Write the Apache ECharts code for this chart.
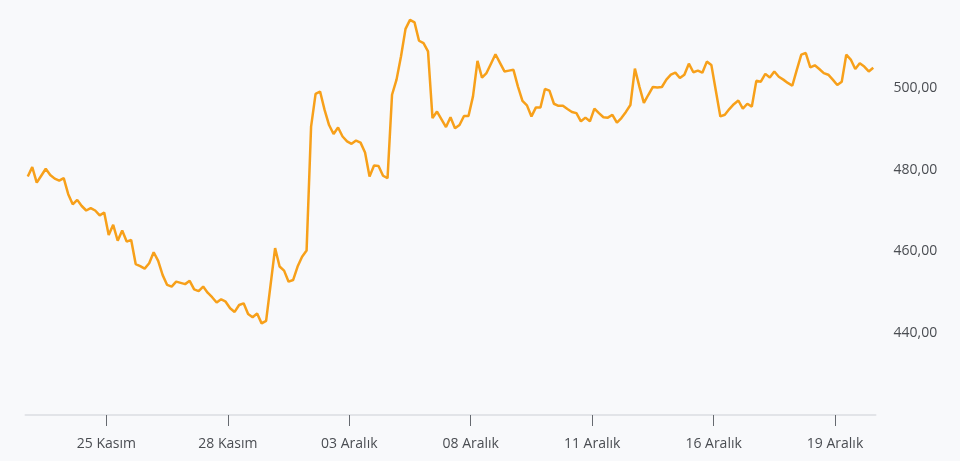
<!DOCTYPE html>
<html>
<head>
<meta charset="utf-8">
<script src="https://cdn.jsdelivr.net/npm/echarts@6/dist/echarts.min.js"></script>
<style>
html,body{margin:0;padding:0;background:#f8f9fb;}
#chart{width:960px;height:461px;}
</style>
</head>
<body>
<div id="chart"></div>
<script>
// Price series (one point per trading hour, 9 points per day)
const values = [
478.3,480.6,476.8,478.5,480.2,478.7,477.8,477.3,477.9,
474.0,471.5,472.6,471.1,470.0,470.6,470.0,468.8,469.5,
464.0,466.5,462.6,465.1,462.4,462.8,456.9,456.4,455.8,
457.1,459.8,457.7,454.2,451.8,451.4,452.6,452.3,452.0,
452.8,450.7,450.3,451.4,449.9,448.8,447.5,448.3,447.7,
446.1,445.2,446.9,447.3,444.7,443.9,444.8,442.4,443.0,
451.9,460.8,456.3,455.3,452.6,453.0,456.3,458.7,460.2,
490.5,498.5,499.1,494.6,490.9,488.7,490.3,488.1,486.9,
486.3,487.1,486.6,484.2,478.3,481.0,480.9,478.5,477.9,
498.3,502.0,507.7,514.4,516.6,516.0,511.5,510.9,508.9,
492.6,494.2,492.3,490.4,492.8,490.1,490.9,493.1,493.1,
497.9,506.6,502.5,503.6,505.9,508.2,506.1,504.0,504.2,
504.4,500.3,496.8,495.7,493.0,495.2,495.2,499.7,499.3,
496.1,495.6,495.6,494.8,494.1,493.8,491.8,492.7,491.8,
494.9,493.8,492.8,492.7,493.4,491.5,492.6,494.1,495.8,
504.7,500.3,496.3,498.3,500.2,500.1,500.2,502.0,503.2,
503.7,502.4,503.2,505.9,503.8,504.2,503.7,506.4,505.6,
499.3,493.0,493.4,494.8,496.0,496.9,494.9,496.1,495.4,
501.7,501.5,503.4,502.5,504.0,502.7,502.0,501.2,500.5,
504.4,508.1,508.5,505.0,505.5,504.6,503.6,503.2,502.0,
500.7,501.5,508.1,506.9,504.6,506.0,505.2,504.0,504.9
];
// Day-start positions (between the last point of previous day and first of the day)
const tickPositions = [17.5, 44.5, 71.5, 98.5, 125.5, 152.5, 179.5];
const tickLabels = ['25 Kasım', '28 Kasım', '03 Aralık', '08 Aralık', '11 Aralık', '16 Aralık', '19 Aralık'];
const yTicks = [440, 460, 480, 500];

const labelMap = {};
tickPositions.forEach((p, i) => { labelMap[p] = tickLabels[i]; });

const chart = echarts.init(document.getElementById('chart'), null, {renderer: 'canvas'});
chart.setOption({
  backgroundColor: '#f8f9fb',
  animation: false,
  grid: {left: 25.5, right: 84.5, top: 6, bottom: 46},
  xAxis: {
    type: 'value',
    min: -0.5,
    max: values.length - 0.5,
    splitLine: {show: false},
    axisLine: {show: true, lineStyle: {color: '#e2e4e8', width: 2}},
    axisTick: {show: true, length: 11, lineStyle: {color: '#666a70', width: 1}, customValues: tickPositions},
    axisLabel: {
      customValues: tickPositions,
      formatter: v => labelMap[v] || '',
      color: '#4a4d52',
      fontSize: 14,
      fontFamily: 'Open Sans',
      margin: 22
    }
  },
  yAxis: {
    type: 'value',
    position: 'right',
    min: 420,
    max: 520,
    interval: 20,
    splitLine: {show: false},
    axisLine: {show: false},
    axisTick: {show: false},
    axisLabel: {
      customValues: yTicks,
      formatter: v => v.toFixed(2).replace('.', ','),
      color: '#4a4d52',
      fontSize: 14,
      fontFamily: 'Open Sans',
      margin: 18
    }
  },
  series: [{
    type: 'line',
    data: values.map((v, i) => [i, v]),
    showSymbol: false,
    symbol: 'none',
    lineStyle: {color: '#f7a01a', width: 2.5},
    itemStyle: {color: '#f7a01a'}
  }]
});
</script>
</body>
</html>
